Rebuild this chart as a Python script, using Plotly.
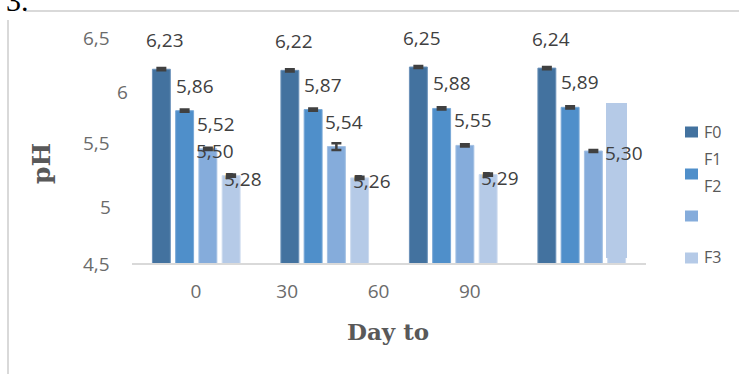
import plotly.graph_objects as go

# pH of four formulations over storage time
days = [0, 30, 60, 90]
series = ["F0", "F1", "F2", "F3"]
ph_f0 = [6.23, 6.22, 6.25, 6.24]
ph_f1 = [5.86, 5.87, 5.88, 5.89]
ph_f2 = [5.52, 5.54, 5.55, 5.50]
ph_f3 = [5.28, 5.26, 5.29, 5.30]
err_f0 = [0.01, 0.01, 0.01, 0.01]
err_f1 = [0.01, 0.01, 0.01, 0.01]
err_f2 = [0.01, 0.03, 0.01, 0.01]
err_f3 = [0.01, 0.01, 0.01, 0.01]
y_ticks = [6.5, 6.0, 5.5, 5.0, 4.5]

values = [ph_f0, ph_f1, ph_f2, ph_f3]
errors = [err_f0, err_f1, err_f2, err_f3]
colors = ["#43729f", "#4f8fca", "#85acdb", "#b5cae7"]
edges = ["#6b91b9", "#78a8d6", "#a3c0e3", "#cbdaee"]

W, H = 739, 374
L, R, T, B = 132, 93, 39, 111
PW, PH = W - L - R, H - T - B


def px_x(px):
    return (px - L) / PW


def px_y(py):
    return (H - B - py) / PH


def comma(v):
    return f"{v:.2f}".replace(".", ",")


cats = [str(d) for d in days]
BARGAP = 0.276
slot = (1 - BARGAP) / len(series)

fig = go.Figure()
for i, name in enumerate(series):
    fig.add_trace(go.Bar(
        name=name, x=cats, y=values[i], base=0,
        marker=dict(color=colors[i], line=dict(color=edges[i], width=1)),
        error_y=dict(type="data", array=errors[i], color="#404040",
                     thickness=2.5, width=5),
        showlegend=False, hoverinfo="skip",
    ))

# carrier for the day axis
fig.add_trace(go.Scatter(x=days, y=[4.5] * len(days), xaxis="x2", mode="markers",
                         marker=dict(opacity=0), showlegend=False, hoverinfo="skip"))

ann = []
label_font = dict(family="Open Sans", size=19, color="#404040")
# data labels: horizontal / vertical offsets per series (px)
dx = [4, 10, 8, 12]
dy = [29, 25, 25, -3]
for i in range(len(series)):
    for g in range(len(days)):
        v = values[i][g]
        xs, ys = dx[i], dy[i]
        xpos = g + (i - 1.5) * slot
        if i == 2 and g == 3:
            # this label sits over the first group
            xpos = 0 + (i - 1.5) * slot
            xs, ys = 7, 0
        if i == 3 and g == 3:
            xs, ys = 7, 20
        ann.append(dict(x=xpos, y=v, xref="x", yref="y", text=comma(v),
                        showarrow=False, xshift=xs, yshift=ys,
                        xanchor="center", yanchor="middle", font=label_font))

# y tick labels
tick_font = dict(family="Open Sans", size=19, color="#6b6b6b")
tick_x = [96, 122, 96, 105, 96]
tick_dy = [1, 3, 8, 0, -1]
for t, tx, ty in zip(y_ticks, tick_x, tick_dy):
    txt = f"{t:g}".replace(".", ",")
    ann.append(dict(x=px_x(tx), y=t, xref="paper", yref="y", text=txt,
                    showarrow=False, yshift=ty, xanchor="center", yanchor="middle",
                    font=tick_font))

# axis titles
ann.append(dict(x=px_x(41), y=px_y(164), xref="paper", yref="paper", text="<b>pH</b>",
                textangle=-90, showarrow=False, xanchor="center", yanchor="middle",
                font=dict(family="DejaVu Serif", size=25, color="#595959")))
ann.append(dict(x=px_x(388), y=px_y(331), xref="paper", yref="paper", text="<b>Day to</b>",
                showarrow=False, xanchor="center", yanchor="middle",
                font=dict(family="DejaVu Serif", size=23, color="#595959")))
ann.append(dict(x=px_x(4), y=px_y(19), xref="paper", yref="paper", text="3.",
                showarrow=False, xanchor="left", yanchor="bottom",
                font=dict(family="Liberation Serif", size=30, color="#000000")))

# legend
leg_font = dict(family="Open Sans", size=16, color="#595959")
leg_text = [("F0", 132), ("F1", 159), ("F2", 186), ("F3", 257)]
for txt, py in leg_text:
    ann.append(dict(x=px_x(702), y=px_y(py), xref="paper", yref="paper", text=txt,
                    showarrow=False, xanchor="left", yanchor="middle", font=leg_font))

shapes = []
swatch_y = [132, 174, 216, 258]
for c, py in zip(colors, swatch_y):
    shapes.append(dict(type="rect", xref="paper", yref="paper",
                       x0=px_x(685), x1=px_x(698), y0=px_y(py + 5.5), y1=px_y(py - 5.5),
                       fillcolor=c, line=dict(width=0)))
# loose F3 panel over the last group
shapes.append(dict(type="rect", xref="paper", yref="paper",
                   x0=px_x(606), x1=px_x(627), y0=px_y(258), y1=px_y(103),
                   fillcolor=colors[3], line=dict(width=0), layer="above"))
# frame lines
shapes.append(dict(type="line", xref="paper", yref="paper",
                   x0=px_x(25), x1=px_x(745), y0=px_y(11), y1=px_y(11),
                   line=dict(color="#d9d9d9", width=2)))
shapes.append(dict(type="line", xref="paper", yref="paper",
                   x0=px_x(8), x1=px_x(8), y0=px_y(20), y1=px_y(380),
                   line=dict(color="#d9d9d9", width=2)))

fig.update_layout(
    width=W, height=H,
    margin=dict(l=L, r=R, t=T, b=B, pad=0),
    paper_bgcolor="white", plot_bgcolor="white",
    barmode="group", bargap=BARGAP, bargroupgap=0.23,
    showlegend=False,
    xaxis=dict(range=[-0.5, 3.5], showticklabels=False, ticks="",
               showline=True, linecolor="#d9d9d9", linewidth=2,
               showgrid=False, zeroline=False, fixedrange=True),
    xaxis2=dict(overlaying="x", anchor="y", side="bottom",
                range=[-21.0, 147.9], tickvals=days, ticktext=cats,
                ticks="outside", ticklen=11, tickcolor="rgba(0,0,0,0)",
                tickfont=tick_font, showline=False, showgrid=False, zeroline=False),
    yaxis=dict(range=[4.5, 6.5], showticklabels=False, ticks="",
               showgrid=False, zeroline=False, showline=False),
    annotations=ann,
    shapes=shapes,
)

fig.write_html("out.html")
